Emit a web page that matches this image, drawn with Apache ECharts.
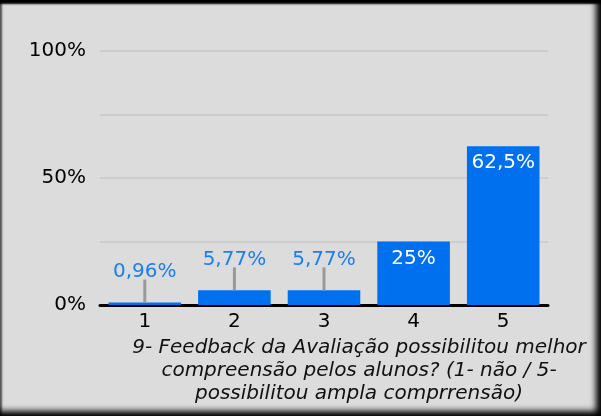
<!DOCTYPE html>
<html>
<head>
<meta charset="utf-8">
<script src="https://cdn.jsdelivr.net/npm/echarts@6/dist/echarts.min.js"></script>
<style>
  html, body { margin: 0; padding: 0; background: #000; }
  #frame {
    width: 601px; height: 416px; position: relative; overflow: hidden;
    background: #dcdcdc;
    box-shadow: inset 0 5px 2px -1px #000, inset -7px -7px 6px -2px #000, inset 2px 0 2px #555;
  }
  #chart { position: absolute; left: 0; top: 0; width: 601px; height: 416px; }
</style>
</head>
<body>
<div id="frame"><div id="chart"></div></div>
<script>
// dados
var categories = ['1', '2', '3', '4', '5'];
var percentValues = [0.96, 5.77, 5.77, 25, 62.5];
var yTicks = [0, 50, 100];
var captionLines = [
    '9- Feedback da Avaliação possibilitou melhor',
    'compreensão pelos alunos? (1- não / 5-',
    'possibilitou ampla comprrensão)'
];

var BLUE = '#0070ee';
var FONT = 'DejaVu Sans';
var FS = 20;
var SMALL = 10; // abaixo disto o rótulo fica por cima, com linha guia

function fmt(v) { return String(v).replace('.', ',') + '%'; }

var barData = percentValues.map(function (v) {
    var outside = v < SMALL;
    return {
        value: v,
        label: outside
            ? { position: 'top', distance: 21, color: '#1a7ff0' }
            : { position: 'insideTop', distance: 7, color: '#ffffff' }
    };
});

var chart = echarts.init(document.getElementById('chart'));
chart.setOption({
    backgroundColor: 'transparent',
    animation: false,
    textStyle: { fontFamily: FONT },
    title: {
        text: captionLines.join('\n'),
        left: 354, top: 331,
        textAlign: 'center',
        textStyle: {
            fontFamily: FONT, fontStyle: 'italic', fontWeight: 'normal',
            fontSize: FS, lineHeight: 23, color: '#111', align: 'center'
        }
    },
    grid: { left: 100, right: 53, top: 51, bottom: 111 },
    xAxis: {
        type: 'category',
        data: categories,
        axisLine: { lineStyle: { color: '#000', width: 3 } },
        axisTick: { show: false },
        axisLabel: { color: '#000', fontSize: FS, margin: 7, fontFamily: FONT }
    },
    yAxis: {
        type: 'value',
        min: 0, max: 100, interval: 25,
        axisLine: { show: false },
        axisTick: { show: false },
        axisLabel: {
            color: '#000', fontSize: FS, margin: 14, fontFamily: FONT,
            formatter: function (v) { return yTicks.indexOf(v) >= 0 ? v + '%' : ''; }
        },
        splitLine: { lineStyle: { color: '#cdcdcd', width: 2 } }
    },
    series: [
        {
            type: 'bar',
            data: barData,
            barCategoryGap: '19%',
            itemStyle: { color: BLUE },
            label: {
                show: true, fontSize: FS, fontFamily: FONT,
                formatter: function (p) { return fmt(p.value); }
            },
            z: 2
        },
        {
            // linhas guia dos rótulos pequenos
            type: 'custom',
            data: percentValues.map(function (v, i) { return [i, v]; }),
            renderItem: function (params, api) {
                var v = api.value(1);
                if (v >= SMALL) return null;
                var p = api.coord([api.value(0), v]);
                return {
                    type: 'line',
                    shape: { x1: p[0], y1: p[1], x2: p[0], y2: p[1] - 23 },
                    style: { stroke: '#999', lineWidth: 3 }
                };
            },
            z: 3,
            silent: true
        }
    ]
});
</script>
</body>
</html>
